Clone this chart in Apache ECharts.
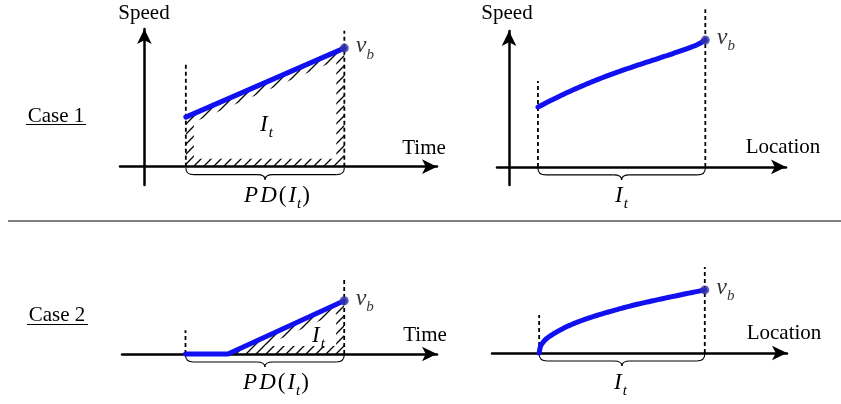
<!DOCTYPE html>
<html>
<head>
<meta charset="utf-8">
<script src="https://cdn.jsdelivr.net/npm/echarts@6/dist/echarts.min.js"></script>
<style>
  html, body { margin: 0; padding: 0; background: #fff; }
  #chart { width: 841px; height: 404px; }
</style>
</head>
<body>
<div id="chart"></div>
<script>
// Case 1: speed rises linearly over time, concavely over location
const case1TimeX = [1.7, 8.2];
const case1TimeSpeed = [2.7, 6.46];
const case1LocX = [1.2, 2.25, 3.64, 5.02, 6.41, 7.79, 8.15];
const case1LocSpeed = [3.3, 4.0, 4.8, 5.47, 6.08, 6.73, 7.0];

// Case 2: speed stays at zero, then ramps up to v_b
const case2TimeX = [1.7, 3.44, 8.2];
const case2TimeSpeed = [0, 0, 2.9];
const case2LocX = [1.25, 1.31, 1.39, 1.56, 2.25, 2.94, 3.63, 5.01, 6.39, 8.1];
const case2LocSpeed = [0, 0.38, 0.55, 0.8, 1.36, 1.76, 2.07, 2.59, 3.01, 3.48];

// Heights of the dashed interval markers (start, end)
const case1TimeGuide = [5.65, 7.4];
const case1LocGuide = [4.74, 8.7];
const case2TimeGuide = [1.3, 4.14];
const case2LocGuide = [2.1, 4.75];

const BLUE = '#1010f0';
const DOT = '#3535a5';
const SERIF = "'Liberation Serif', 'Times New Roman', serif";
const BAND = 8;

// diagonal hatch tile used for the shaded interval
function makeHatch() {
  const s = 10;
  const c = document.createElement('canvas');
  c.width = s; c.height = s;
  const g = c.getContext('2d');
  g.strokeStyle = '#000';
  g.lineWidth = 1.3;
  g.beginPath();
  g.moveTo(-1, s + 1); g.lineTo(s + 1, -1);
  g.moveTo(-1, 1); g.lineTo(1, -1);
  g.moveTo(s - 1, s + 1); g.lineTo(s + 1, s - 1);
  g.stroke();
  return c;
}
const hatchTile = makeHatch();

// shrink a convex polygon (pixel space) by d along each edge
function inset(pts, d) {
  const n = pts.length;
  let a = 0;
  for (let i = 0; i < n; i++) {
    const p = pts[i], q = pts[(i + 1) % n];
    a += p[0] * q[1] - q[0] * p[1];
  }
  const s = a > 0 ? 1 : -1;
  const lines = pts.map((p, i) => {
    const q = pts[(i + 1) % n];
    const dx = q[0] - p[0], dy = q[1] - p[1];
    const L = Math.hypot(dx, dy) || 1;
    const nx = -s * dy / L, ny = s * dx / L;
    return { p: [p[0] + nx * d, p[1] + ny * d], dir: [dx, dy] };
  });
  return lines.map((l2, i) => {
    const l1 = lines[(i - 1 + n) % n];
    const cr = l1.dir[0] * l2.dir[1] - l1.dir[1] * l2.dir[0];
    const wx = l2.p[0] - l1.p[0], wy = l2.p[1] - l1.p[1];
    const t = (wx * l2.dir[1] - wy * l2.dir[0]) / cr;
    return [l1.p[0] + t * l1.dir[0], l1.p[1] + t * l1.dir[1]];
  });
}

function dedupe(pts) {
  const out = [];
  pts.forEach(p => {
    const last = out[out.length - 1];
    if (!last || Math.hypot(last[0] - p[0], last[1] - p[1]) > 0.5) out.push(p);
  });
  return out;
}

// centripetal Catmull-Rom path through pixel points (drawing only)
function spline(pts, steps) {
  if (pts.length < 3) return pts;
  const P = [pts[0]].concat(pts, [pts[pts.length - 1]]);
  const out = [pts[0]];
  const td = (a, b) => Math.pow(Math.hypot(b[0] - a[0], b[1] - a[1]), 0.5) || 1e-4;
  for (let i = 1; i < P.length - 2; i++) {
    const p0 = P[i - 1], p1 = P[i], p2 = P[i + 1], p3 = P[i + 2];
    const t0 = 0, t1 = t0 + td(p0, p1), t2 = t1 + td(p1, p2), t3 = t2 + td(p2, p3);
    for (let k = 1; k <= steps; k++) {
      const t = t1 + (t2 - t1) * k / steps;
      const pt = [0, 1].map(j => {
        const A1 = (t1 - t) / (t1 - t0) * p0[j] + (t - t0) / (t1 - t0) * p1[j];
        const A2 = (t2 - t) / (t2 - t1) * p1[j] + (t - t1) / (t2 - t1) * p2[j];
        const A3 = (t3 - t) / (t3 - t2) * p2[j] + (t - t2) / (t3 - t2) * p3[j];
        const B1 = (t2 - t) / (t2 - t0) * A1 + (t - t0) / (t2 - t0) * A2;
        const B2 = (t3 - t) / (t3 - t1) * A2 + (t - t1) / (t3 - t1) * A3;
        return (t2 - t) / (t2 - t1) * B1 + (t - t1) / (t2 - t1) * B2;
      });
      out.push(pt);
    }
  }
  return out;
}

function hatchSeries(i, xs, ys, start) {
  return {
    type: 'custom', xAxisIndex: i, yAxisIndex: i, silent: true, z: 1,
    data: [0],
    renderItem: (params, api) => {
      const raw = [[xs[start], 0]];
      for (let k = start; k < xs.length; k++) raw.push([xs[k], ys[k]]);
      raw.push([xs[xs.length - 1], 0]);
      const px = dedupe(raw.map(p => api.coord(p)));
      const inner = inset(px, BAND);
      return {
        type: 'group',
        children: [
          { type: 'polygon', shape: { points: px }, style: { fill: { image: hatchTile, repeat: 'repeat' } } },
          { type: 'polygon', shape: { points: inner }, style: { fill: '#fff' } }
        ]
      };
    }
  };
}

// curly brace under the axis spanning the interval
function braceSeries(i, x0, x1) {
  return {
    type: 'custom', xAxisIndex: i, yAxisIndex: i, silent: true, z: 3,
    data: [0],
    renderItem: (params, api) => {
      const a = api.coord([x0, 0]), b = api.coord([x1, 0]);
      const y0 = a[1] + 1, h = 7, tip = 5, r = 8;
      const m = (a[0] + b[0]) / 2;
      const st = { stroke: '#000', fill: null, lineWidth: 1.1 };
      const yh = y0 + h;
      return {
        type: 'group',
        children: [
          { type: 'bezierCurve', shape: { x1: a[0], y1: y0, cpx1: a[0], cpy1: yh, x2: a[0] + r, y2: yh }, style: st },
          { type: 'line', shape: { x1: a[0] + r, y1: yh, x2: m - r, y2: yh }, style: st },
          { type: 'bezierCurve', shape: { x1: m - r, y1: yh, cpx1: m, cpy1: yh, x2: m, y2: yh + tip }, style: st },
          { type: 'bezierCurve', shape: { x1: m, y1: yh + tip, cpx1: m, cpy1: yh, x2: m + r, y2: yh }, style: st },
          { type: 'line', shape: { x1: m + r, y1: yh, x2: b[0] - r, y2: yh }, style: st },
          { type: 'bezierCurve', shape: { x1: b[0] - r, y1: yh, cpx1: b[0], cpy1: yh, x2: b[0], y2: y0 }, style: st }
        ]
      };
    }
  };
}

// speed profile: straight segments or a smooth curve through the readings
function curve(i, xs, ys, smooth) {
  return {
    type: 'custom', xAxisIndex: i, yAxisIndex: i, silent: true, z: 4,
    data: [0],
    renderItem: (params, api) => {
      const px = xs.map((x, k) => api.coord([x, ys[k]]));
      const pts = smooth ? spline(px, 16) : px;
      return {
        type: 'polyline', shape: { points: pts },
        style: { stroke: BLUE, fill: null, lineWidth: 5, lineCap: 'round', lineJoin: 'round' }
      };
    }
  };
}

function guide(i, x, top) {
  return {
    type: 'line', xAxisIndex: i, yAxisIndex: i, silent: true, z: 2, clip: false,
    data: [[x, 0], [x, top]], showSymbol: false, symbol: 'none',
    lineStyle: { color: '#000', width: 1.8, type: [4, 3] }
  };
}

const vbRich = {
  v: { fontFamily: SERIF, fontStyle: 'italic', fontSize: 24, color: '#000', verticalAlign: 'bottom', padding: [0, 0, 4, 0] },
  b: { fontFamily: SERIF, fontStyle: 'italic', fontSize: 15, color: '#000', verticalAlign: 'bottom' }
};

function endDot(i, xs, ys) {
  const k = xs.length - 1;
  return {
    type: 'scatter', xAxisIndex: i, yAxisIndex: i, silent: true, z: 5, clip: false,
    data: [[xs[k], ys[k]]], symbolSize: 9,
    itemStyle: { color: DOT },
    label: { show: true, position: 'right', distance: 7, formatter: '{v|v}{b|b}', rich: vbRich }
  };
}

const mathRich = {
  it: { fontFamily: SERIF, fontStyle: 'italic', fontSize: 23, color: '#000', verticalAlign: 'bottom', padding: [0, 1, 5, 1] },
  up: { fontFamily: SERIF, fontSize: 23, color: '#000', verticalAlign: 'bottom', padding: [0, 1, 5, 1] },
  sub: { fontFamily: SERIF, fontStyle: 'italic', fontSize: 15, color: '#000', verticalAlign: 'bottom' }
};
const IT = '{it|I}{sub|t}';
const PDIT = '{it|P}{it|D}{up|(}{it|I}{sub|t}{up|)}';

function word(x, y, text) {
  return { type: 'text', x: x, y: y, z: 10, silent: true,
    style: { text: text, font: '21px ' + SERIF, fill: '#000', align: 'center', verticalAlign: 'middle' } };
}
function math(x, y, text) {
  return { type: 'text', x: x, y: y, z: 10, silent: true,
    style: { text: text, rich: mathRich, fill: '#000', align: 'center', verticalAlign: 'middle' } };
}
function rule(x1, y1, x2, y2, color, w) {
  return { type: 'line', silent: true, z: 10, shape: { x1, y1, x2, y2 }, style: { stroke: color, lineWidth: w } };
}

const axisBase = {
  type: 'value',
  axisTick: { show: false }, axisLabel: { show: false }, splitLine: { show: false }
};
const arrowLine = { show: true, onZero: true, symbol: ['none', 'arrow'], symbolSize: [11, 15],
  lineStyle: { color: '#000', width: 2.5 } };

function xAx(i, min, max) {
  return Object.assign({}, axisBase, { gridIndex: i, min, max, axisLine: arrowLine });
}
function yAx(i, min, max, show) {
  return Object.assign({}, axisBase, { gridIndex: i, min, max, axisLine: show ? arrowLine : { show: false } });
}

const chart = echarts.init(document.getElementById('chart'));
chart.setOption({
  animation: false,
  backgroundColor: '#fff',
  grid: [
    { left: 120, top: 29, width: 317, height: 156 },
    { left: 497, top: 31, width: 289, height: 154 },
    { left: 122, top: 271.4, width: 315, height: 82.6 },
    { left: 492, top: 262.4, width: 295, height: 90.6 }
  ],
  xAxis: [
    xAx(0, -1, 12),
    xAx(1, -0.5, 11.5),
    xAx(2, -0.9, 12),
    xAx(3, -0.7, 11.5)
  ],
  yAxis: [
    yAx(0, -1, 7.5, true),
    yAx(1, -1, 7.5, true),
    yAx(2, 0, 4.5, false),
    yAx(3, 0, 5, false)
  ],
  series: [
    // Case 1, time
    hatchSeries(0, case1TimeX, case1TimeSpeed, 0),
    guide(0, case1TimeX[0], case1TimeGuide[0]),
    guide(0, case1TimeX[case1TimeX.length - 1], case1TimeGuide[1]),
    curve(0, case1TimeX, case1TimeSpeed, false),
    endDot(0, case1TimeX, case1TimeSpeed),
    braceSeries(0, case1TimeX[0], case1TimeX[case1TimeX.length - 1]),
    // Case 1, location
    guide(1, case1LocX[0], case1LocGuide[0]),
    guide(1, case1LocX[case1LocX.length - 1], case1LocGuide[1]),
    curve(1, case1LocX, case1LocSpeed, true),
    endDot(1, case1LocX, case1LocSpeed),
    braceSeries(1, case1LocX[0], case1LocX[case1LocX.length - 1]),
    // Case 2, time
    hatchSeries(2, case2TimeX, case2TimeSpeed, 1),
    guide(2, case2TimeX[0], case2TimeGuide[0]),
    guide(2, case2TimeX[case2TimeX.length - 1], case2TimeGuide[1]),
    curve(2, case2TimeX, case2TimeSpeed, false),
    endDot(2, case2TimeX, case2TimeSpeed),
    braceSeries(2, case2TimeX[0], case2TimeX[case2TimeX.length - 1]),
    // Case 2, location
    guide(3, case2LocX[0], case2LocGuide[0]),
    guide(3, case2LocX[case2LocX.length - 1], case2LocGuide[1]),
    curve(3, case2LocX, case2LocSpeed, true),
    endDot(3, case2LocX, case2LocSpeed),
    braceSeries(3, case2LocX[0], case2LocX[case2LocX.length - 1])
  ],
  graphic: [
    word(144, 13, 'Speed'),
    word(507, 13, 'Speed'),
    word(424, 148, 'Time'),
    word(783, 147, 'Location'),
    word(425, 335, 'Time'),
    word(784, 333, 'Location'),
    word(56, 116, 'Case 1'),
    rule(26, 124.5, 86, 124.5, '#000', 1),
    word(57, 315, 'Case 2'),
    rule(27, 324.5, 88, 324.5, '#000', 1),
    rule(8, 221, 841, 221, '#808080', 2),
    math(266, 127, IT),
    math(277, 198, PDIT),
    math(621, 198, IT),
    math(318, 338, IT),
    math(276, 385, PDIT),
    math(620, 385, IT)
  ]
});
</script>
</body>
</html>
